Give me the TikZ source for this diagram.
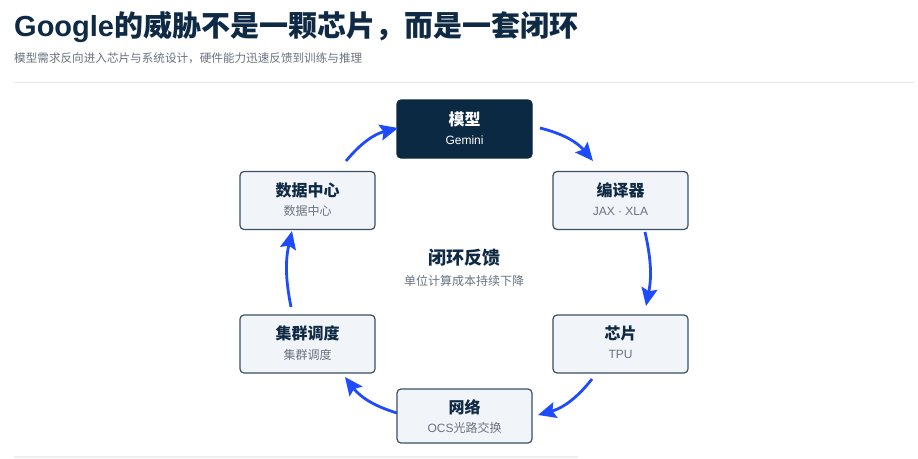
\documentclass[tikz,border=0pt]{standalone}
\usepackage{fontspec}
\setmainfont{Noto Sans CJK SC}
\newfontfamily\lat{Liberation Sans}
\usetikzlibrary{arrows.meta}
\definecolor{navy}{HTML}{0F2A44}
\definecolor{darkbox}{HTML}{0B2942}
\definecolor{boxfill}{HTML}{F1F4F9}
\definecolor{boxline}{HTML}{3B4F66}
\definecolor{subgray}{HTML}{6B7280}
\definecolor{rule}{HTML}{E5E7EB}
\definecolor{arrowblue}{HTML}{1F4BFF}
\begin{document}
\begin{tikzpicture}[x=1pt,y=-1pt,
  box/.style={draw=boxline,line width=1.2pt,fill=boxfill,rounded corners=4pt,minimum width=135pt,minimum height=58pt,inner sep=0pt},
  darkbx/.style={box,draw=darkbox,fill=darkbox},
  btitle/.style={font=\fontsize{16}{18}\selectfont\bfseries,text=navy,inner sep=0pt},
  bsub/.style={font=\fontsize{12}{14}\selectfont,text=subgray,inner sep=0pt},
  flow/.style={draw=arrowblue,line width=2.8pt,-{Stealth[length=18pt,width=16pt,inset=3pt]}}
]
\useasboundingbox (0,0) rectangle (918,458);
\fill[white] (0,0) rectangle (918,458);

% header
\node[anchor=base west,inner sep=0pt,font=\fontsize{29}{32}\selectfont\bfseries,text=navy] (title) at (14,36.5) {{\lat\bfseries Google}的威胁不是一颗芯片，而是一套闭环};
\node[anchor=base west,inner sep=0pt,font=\fontsize{11.6}{13}\selectfont,text=subgray] (subtitle) at (14,62) {模型需求反向进入芯片与系统设计，硬件能力迅速反馈到训练与推理};
\draw[rule,line width=1pt] (14,82) -- (914,82);
\fill[rule!70] (14,456) rectangle (578,458);

% boxes
\node[darkbx] (m) at (464.5,129) {};
\node[btitle,text=white] (mt) at (464.5,119) {模型};
\node[bsub,text=white] (ms) at (464.5,140) {\lat Gemini};

\node[box] (c) at (620.5,200.5) {};
\node[btitle] (ct) at (620.5,190) {编译器};
\node[bsub] (cs) at (620.5,211) {\lat JAX · XLA};

\node[box] (p) at (620.5,344) {};
\node[btitle] (pt) at (620.5,333.5) {芯片};
\node[bsub] (ps) at (620.5,354.5) {\lat TPU};

\node[box,minimum height=54pt] (n) at (464.5,416) {};
\node[btitle] (nt) at (464.5,407) {网络};
\node[bsub] (ns) at (464.5,428) {{\lat OCS}光路交换};

\node[box] (s) at (307.5,344) {};
\node[btitle] (st) at (307.5,333.5) {集群调度};
\node[bsub] (ss) at (307.5,354.5) {集群调度};

\node[box] (d) at (307.5,200.5) {};
\node[btitle] (dt) at (307.5,190) {数据中心};
\node[bsub] (ds) at (307.5,211) {数据中心};

% center
\node[font=\fontsize{18}{20}\selectfont\bfseries,text=navy,inner sep=0pt] (loop) at (464,258) {闭环反馈};
\node[bsub] (loops) at (464,281) {单位计算成本持续下降};

% arrow endpoints
\coordinate (a1s) at (346,161); \coordinate (a1e) at (398,128);
\coordinate (a2s) at (540,128); \coordinate (a2e) at (593,161);
\coordinate (a3s) at (645,232); \coordinate (a3e) at (646,306);
\coordinate (a4s) at (592,379); \coordinate (a4e) at (538,415);
\coordinate (a5s) at (397,413); \coordinate (a5e) at (345,377);
\coordinate (a6s) at (291,307); \coordinate (a6e) at (292,231);

\draw[flow] (a1s) to[bend left=18] (a1e);
\draw[flow] (a2s) to[bend left=18] (a2e);
\draw[flow] (a3s) to[bend left=12] (a3e);
\draw[flow] (a4s) to[bend left=18] (a4e);
\draw[flow] (a5s) to[bend left=18] (a5e);
\draw[flow] (a6s) to[bend left=12] (a6e);
\end{tikzpicture}
\end{document}
